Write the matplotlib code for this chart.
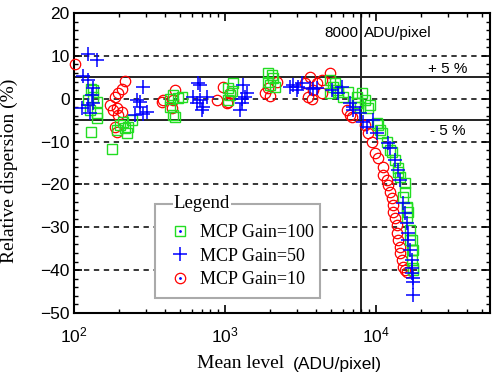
import matplotlib
matplotlib.use("Agg")
import matplotlib.pyplot as plt
from matplotlib.patches import Rectangle
from matplotlib.lines import Line2D
from matplotlib.ticker import LogLocator, MultipleLocator, NullFormatter

plt.rcParams['font.family'] = ['Liberation Sans', 'DejaVu Sans']
plt.rcParams['mathtext.default'] = 'regular'

# ---- data ----
g100_x = [123.8, 129.6, 133.6, 127.6, 142, 142, 129.6, 178.5, 192.7, 224.4, 227.9, 242.2, 211.2, 201.7, 217.7, 133.6, 142,
          432, 452, 488, 452, 519, 432, 467,
          1130, 1047, 1079, 1047, 1110,
          1927, 2079, 1986, 2143, 1927, 2048,
          4959, 5352, 4959, 5601, 6048, 6528, 7485, 7485, 5190, 5517, 8077, 8456, 8850, 7600, 7834, 9127,
          10150, 10310, 10630, 10960, 11830, 12380, 12760, 13360, 13990, 13990, 14420, 15560, 15560, 15100,
          16040, 16040, 16290, 16040, 16800, 16800, 17310, 17310, 17580, 17310, 17580, 17580]
g100_y = [-0.3, 2.2, 0.5, -2.6, -3.4, -4.5, -7.7, -11.7, -7.3, -8.0, -6.5, -5.0, -5.4, -6.1, -6.8, 2.0, -0.7,
          0.0, 0.9, 0.2, -3.8, 0.5, -1.9, -4.3,
          3.6, 2.5, 0.9, -0.3, 1.8,
          6.0, 4.8, 3.2, 2.8, 4.0, 5.5,
          4.4, 3.6, 1.3, 1.6, 0.5, 1.6, 0.5, -1.0, 2.8, 2.0, 1.3, -0.3, -2.2, -1.0, -1.9, -1.5,
          -5.7, -6.1, -7.3, -8.0, -10.0, -12.0, -12.4, -14.3, -16.2, -17.1, -18.2, -19.7, -21.7, -22.9,
          -25.2, -25.5, -26.4, -27.6, -30.6, -33.0, -33.0, -35.3, -35.3, -37.6, -39.5, -40.0]

g50_x = [123.8, 142, 114.7, 123.8, 133.6, 131.6, 113, 123.8, 127.6, 133.6,
         286.4, 261.4, 273.6, 304.4, 253.5, 273.6, 286.4,
         683, 614, 683, 652.6, 704.2, 760, 662.6, 715,
         1316, 1357, 1296, 1257, 1399, 1296,
         2820, 3044, 2695, 3235, 2999, 3656, 3826, 4066,
         5112, 5601, 5955, 6730, 7044, 7044, 7834, 8201, 9553, 8718, 10150, 12010, 12380,
         13360, 13990, 14420, 15100, 15560, 16040, 16290, 16290, 16800, 17310, 17310, 17310, 17580, 17580, 17580]
g50_y = [10.4, 9.0, 5.3, 4.4, 2.5, 0.9, -2.2, -1.5, -3.3, -1.0,
         2.8, -0.3, -1.9, -3.0, -3.8, -0.7, -3.5,
         3.2, 0.5, -0.3, -1.0, -2.6, 0.5, 3.6, -1.9,
         3.2, 0.5, -1.0, -2.6, 1.3, 0.0,
         3.2, 2.8, 2.8, 3.6, 2.0, 2.5, 2.2, 2.5,
         2.0, 1.3, 2.8, -1.0, -2.6, -1.9, -3.4, -5.4, -5.0, -6.5, -8.0, -10.4, -11.5,
         -14.3, -16.6, -19.0, -24.4, -26.7, -29.0, -31.4, -33.0, -35.3, -37.6, -39.5, -40.7, -41.8, -42.8, -45.8]

g10_x = [102, 217.7, 207, 195.6, 186.9, 173.1, 191.8, 195.6, 186.9, 191.8, 181.3, 207,
         388.5, 466.6, 452.5, 445.7, 382.6,
         885, 970, 1079, 1047, 1031,
         1841, 1986, 2210, 1927,
         3656, 3826, 3546, 4066, 4959, 4389, 3387, 4389, 3769,
         6428, 6730, 6938, 8456, 8850, 9408, 9849, 10310, 11130, 11130, 11830, 12010, 12380, 12760,
         12960, 12960, 13360, 13770, 13770, 13990, 14420, 14420, 14870, 15100, 15560, 16040]
g10_y = [8.1, 4.2, 2.2, 1.3, 0.5, -1.5, -2.2, -3.8, -6.5, -7.7, -2.6, -3.0,
         -0.3, 2.0, -0.3, -2.2, -0.7,
         -0.3, 2.8, 1.3, -0.7, -1.0,
         1.3, 0.6, 3.9, 2.5,
         5.1, 2.0, 0.5, 3.6, 6.0, 1.3, 3.6, 4.4, 0.0,
         -2.6, -3.8, -4.2, -6.1, -8.0, -10.0, -12.7, -13.8, -15.9, -17.8, -19.0, -20.1, -21.7, -23.2,
         -24.8, -26.4, -27.9, -29.5, -31.4, -33.0, -34.5, -36.1, -37.6, -39.2, -40.0, -40.4]

labels = ['MCP Gain=100', 'MCP Gain=50', 'MCP Gain=10']
x_ticks = [1e2, 1e3, 1e4]
y_ticks = [20, 10, 0, -10, -20, -30, -40, -50]
dash_levels = [10, 0, -10, -20, -30, -40]
band_levels = [5, -5]
sat_level = 8000

GREEN = '#22dd22'
BLUE = '#0000ff'
RED = '#ff0000'

fig = plt.figure(figsize=(4.93, 3.76), dpi=100)
ax = fig.add_axes([74/493, 63/376, 416/493, 300/376])
ax.set_xscale('log')
ax.set_xlim(100, 10**(2 + 416/151))
ax.set_ylim(-50, 20)

for lv in dash_levels:
    ax.axhline(lv, color='black', lw=1.1, ls=(0, (3.5, 3)), zorder=1)
for lv in band_levels:
    ax.axhline(lv, color='#222222', lw=1.4, zorder=1)
ax.axvline(sat_level, color='#222222', lw=1.4, zorder=1)

ax.plot(g10_x, g10_y, ls='none', marker='o', ms=7.5, mfc='none', mec=RED, mew=0.9, zorder=3, clip_on=False)
ax.plot(g100_x, g100_y, ls='none', marker='s', ms=7.5, mfc='none', mec=GREEN, mew=1.0, zorder=4)
ax.plot(g50_x, g50_y, ls='none', marker='+', ms=10, mec=BLUE, mew=1.1, zorder=5)

# axes styling
for sp in ax.spines.values():
    sp.set_linewidth(1.5)
ax.set_xticks(x_ticks)
ax.xaxis.set_minor_locator(LogLocator(base=10, subs=range(2, 10)))
ax.xaxis.set_minor_formatter(NullFormatter())
ax.set_yticks(y_ticks)
ax.yaxis.set_minor_locator(MultipleLocator(2))
ax.tick_params(which='both', direction='in', top=True, right=True, labelsize=12.5)
ax.tick_params(which='major', length=6, width=1.2)
ax.tick_params(which='minor', length=3, width=1.0)
ax.tick_params(axis='x', pad=9)
ax.tick_params(axis='y', pad=3)

ax.set_ylabel('Relative dispersion (%)', family='Liberation Serif', fontsize=14)
ax.yaxis.set_label_coords((18.5 - 74) / 416, 0.473)
fig.text(197/493, 4/376, 'Mean level', family='Liberation Serif', fontsize=14, ha='left', va='bottom')
fig.text(293/493, 4/376, '(ADU/pixel)', family='Liberation Sans', fontsize=12.5, ha='left', va='bottom')

ax.annotate('8000', xy=(sat_level, 15.3), xytext=(-2, 0), textcoords='offset points',
            ha='right', va='center', fontsize=11)
ax.annotate('ADU/pixel', xy=(sat_level, 15.3), xytext=(2, 0), textcoords='offset points',
            ha='left', va='center', fontsize=11)
ax.text(30000, 6.9, '+ 5 %', ha='center', va='center', fontsize=11)
ax.text(30000, -7.5, '- 5 %', ha='center', va='center', fontsize=11)

# legend group box
x0, x1 = (155-74)/416, (320-74)/416
y0, y1 = (313-298)/300, (313-204)/300
ax.add_patch(Rectangle((x0, y0), x1-x0, y1-y0, transform=ax.transAxes, fill=True,
                       fc='white', ec='#aaaaaa', lw=1.5, zorder=6))
ax.text((202-74)/416, y1, 'Legend', transform=ax.transAxes, ha='center', va='center',
        family='Liberation Serif', fontsize=13.5, zorder=7,
        bbox=dict(fc='white', ec='none', pad=1))
h1 = (Line2D([], [], ls='none', marker='s', ms=7.5, mfc='none', mec=GREEN, mew=1.0),
      Line2D([], [], ls='none', marker='.', ms=2, color=BLUE))
h2 = Line2D([], [], ls='none', marker='+', ms=10, mec=BLUE, mew=1.1)
h3 = (Line2D([], [], ls='none', marker='o', ms=7.5, mfc='none', mec=RED, mew=0.9),
      Line2D([], [], ls='none', marker='.', ms=2, color=BLUE))
leg = ax.legend([h1, h2, h3], labels, loc='upper left',
                bbox_to_anchor=((163-74)/416, (313-217)/300), frameon=False,
                prop=dict(family='Liberation Serif', size=13), handlelength=1.1,
                handletextpad=0.55, labelspacing=0.36, borderaxespad=0)
leg.set_zorder(8)

fig.savefig('out.png', dpi=100)
